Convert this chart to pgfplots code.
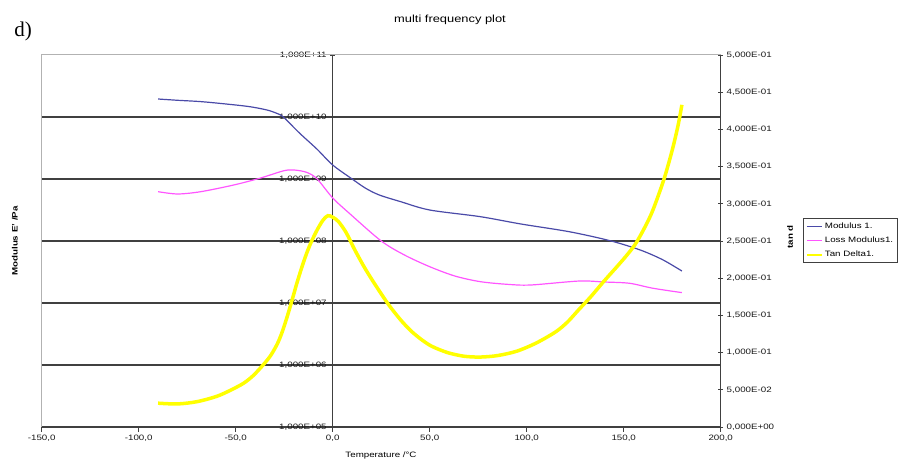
\documentclass[border=0pt]{standalone}
\usepackage{fontspec}
\setmainfont{Liberation Sans}[FakeStretch=1.25]
\newfontfamily\seriffont{Liberation Serif}
\usepackage{pgfplots}
\pgfplotsset{compat=1.18}
\definecolor{modblue}{RGB}{74,74,168}
\definecolor{lossmag}{RGB}{255,85,255}
\definecolor{tanyel}{RGB}{255,255,0}
\definecolor{gridc}{RGB}{64,64,64}
\newcommand{\tf}{\fontsize{7.8}{9}\selectfont}
\begin{document}
\begin{tikzpicture}[x=1pt,y=1pt]
\useasboundingbox (0,0) rectangle (898,462);
\begin{axis}[
  at={(41.7pt,35pt)}, anchor=south west, scale only axis, width=679pt, height=372pt,
  xmin=-150, xmax=200, ymode=log, ymin=1e5, ymax=1e11,
  axis x line=bottom, axis y line=center,
  hide obscured x ticks=false, hide obscured y ticks=false,
  axis line style={-, draw=gridc, line width=1.2pt},
  xtick={-150,-100,-50,0,50,100,150,200},
  xticklabels={{-150,0},{-100,0},{-50,0},{0,0},{50,0},{100,0},{150,0},{200,0}},
  ytick={1e6,1e7,1e8,1e9,1e10},
  yticklabels={{1,000E+06},{1,000E+07},{1,000E+08},{1,000E+09},{1,000E+10}},
  extra y ticks={1e5,1e11}, extra y tick labels={{1,000E+05},{1,000E+11}},
  extra y tick style={grid=none},
  yminorticks=false,
  ymajorgrids, grid style={gridc, line width=1.4pt},
  tick style={gridc, line width=0.8pt},
  xtick align=outside, ytick align=center,
  major tick length=5pt,
  ticklabel style={font=\tf, text=black!90},
  clip=false,
]
\addplot[modblue, line width=1.2pt, smooth, tension=0.5] coordinates {
(-90,1.95e10) (-80,1.86e10) (-68,1.77e10) (-55,1.62e10) (-43,1.47e10) (-34,1.30e10)
(-29,1.15e10) (-25.5,1.0e10) (-17,5.46e9) (-8,3.01e9) (0,1.68e9) (10,1.0e9) (17,7.08e8)
(24,5.52e8) (35,4.31e8) (50,3.16e8) (76,2.47e8) (97,1.88e8) (122,1.41e8) (143,1.01e8)
(158.5,7.16e7) (170,5.0e7) (180,3.28e7)};
\addplot[lossmag, line width=1.2pt, smooth, tension=0.5] coordinates {
(-90,6.24e8) (-80,5.73e8) (-68,6.24e8) (-51,8.0e8) (-37.5,1.03e9) (-25.5,1.35e9)
(-20.3,1.40e9) (-13.4,1.28e9) (-8,1.0e9) (0,4.94e8) (9,2.72e8) (25,1.0e8) (37,5.94e7)
(50,3.85e7) (63,2.72e7) (76,2.21e7) (90,2.0e7) (102,1.95e7) (127,2.26e7) (140,2.18e7)
(153,2.08e7) (165,1.73e7) (180,1.47e7)};
\draw[gray!60, line width=1pt] (rel axis cs:0,0) -- (rel axis cs:0,1) -- (rel axis cs:1,1);
\end{axis}
\begin{axis}[
  at={(41.7pt,35pt)}, anchor=south west, scale only axis, width=679pt, height=372pt,
  xmin=-150, xmax=200, ymin=0, ymax=0.5,
  axis x line=none, axis y line*=right,
  axis line style={-, draw=gridc, line width=1.2pt},
  ytick={0,0.05,0.1,0.15,0.2,0.25,0.3,0.35,0.4,0.45,0.5},
  yticklabels={{0,000E+00},{5,000E-02},{1,000E-01},{1,500E-01},{2,000E-01},{2,500E-01},{3,000E-01},{3,500E-01},{4,000E-01},{4,500E-01},{5,000E-01}},
  tick style={gridc, line width=0.8pt},
  tick align=center, major tick length=5pt,
  ticklabel style={font=\tf, text=black!90},
  legend style={at={(axis description cs:1.1212,0.5618)}, anchor=north west,
    draw=gridc, line width=0.8pt, font=\tf, row sep=3pt, inner sep=2.5pt},
  legend cell align=left,
  legend image code/.code={\draw[#1] (0pt,0pt) -- (15pt,0pt);},
  clip=false,
]
\addlegendimage{modblue, line width=1.5pt}
\addlegendentry{Modulus 1.}
\addlegendimage{lossmag, line width=1.5pt}
\addlegendentry{Loss Modulus1.}
\addlegendimage{tanyel, line width=2pt}
\addlegendentry{Tan Delta1.}
\addplot[tanyel, line width=3.5pt, smooth, tension=0.5, forget plot] coordinates {
(-90,0.032) (-80,0.031) (-70,0.034) (-60,0.041) (-53,0.049) (-46,0.0587) (-41,0.069)
(-36,0.083) (-32,0.096) (-28.5,0.112) (-26,0.128) (-23.5,0.148) (-21,0.170) (-18.5,0.193)
(-16,0.214) (-13.5,0.233) (-11,0.249) (-8,0.265) (-5,0.278) (-2.5,0.284) (0,0.282)
(3,0.276) (7,0.261) (11,0.240) (15.8,0.217) (20,0.199) (25,0.179) (29.5,0.162)
(35,0.144) (40,0.130) (45,0.119) (50,0.110) (55,0.104) (60.5,0.099) (68,0.095)
(76,0.094) (85,0.096) (95,0.102) (105,0.113) (115,0.128) (121,0.141) (126.6,0.157)
(133,0.175) (139.5,0.195) (146,0.214) (151,0.229) (155.8,0.245) (160,0.264) (164,0.285)
(167,0.305) (171,0.335) (175,0.372) (178,0.405) (180,0.433)};
\end{axis}
\node[font=\seriffont\fontsize{21}{24}\selectfont] at (23,431) {d)};
\node[font=\fontsize{10.3}{12}\selectfont] at (450,442) {multi frequency plot};
\node[font=\tf] at (381,7) {Temperature /°C};
\node[rotate=90, font=\bfseries\tf] at (15,221) {Modulus E' /Pa};
\node[rotate=90, font=\bfseries\tf] at (790,225) {tan d};
\end{tikzpicture}
\end{document}
